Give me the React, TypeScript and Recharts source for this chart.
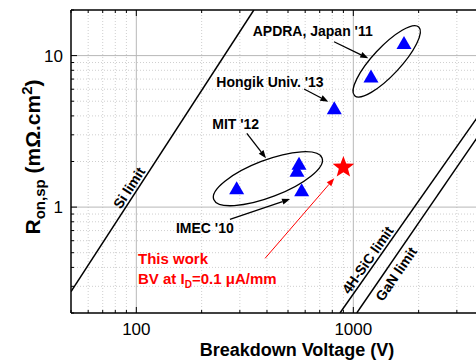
import React from 'react';
import { ComposedChart, XAxis, YAxis, Line, Scatter, ReferenceLine, ReferenceDot } from 'recharts';

const FONT = '"Liberation Sans", Arial, Helvetica, sans-serif';

// log axis ticks
const xTicks = [50, 60, 70, 80, 90, 100, 200, 300, 400, 500, 600, 700, 800, 900, 1000, 2000, 3000, 4000, 5000];
const xMajor = [100, 1000];
const xMinor = [60, 70, 80, 90, 200, 300, 400, 500, 600, 700, 800, 900, 2000, 3000, 4000];
const yTicks = [0.2, 0.3, 0.4, 0.5, 0.6, 0.7, 0.8, 0.9, 1, 2, 3, 4, 5, 6, 7, 8, 9, 10, 20];
const yMajor = [1, 10];
const yMinor = [0.3, 0.4, 0.5, 0.6, 0.7, 0.8, 0.9, 2, 3, 4, 5, 6, 7, 8, 9];

// reported devices (BV in V, Ron,sp in mOhm.cm2)
const apdra = [{ x: 1712, y: 12.2 }, { x: 1206, y: 7.33 }];
const hongik = [{ x: 817, y: 4.53 }];
const mit = [{ x: 562, y: 1.95 }, { x: 550, y: 1.75 }, { x: 290, y: 1.34 }];
const imec = [{ x: 578, y: 1.3 }];
const thisWork = [{ x: 900, y: 1.83 }];

// material limits
const siLimit = [{ x: 50, y: 0.277 }, { x: 348, y: 20 }];
const sicLimit = [{ x: 868, y: 0.2 }, { x: 5000, y: 7.13 }];
const ganLimit = [{ x: 1037, y: 0.2 }, { x: 5000, y: 5.33 }];

// annotation anchors (data coords)
const groupLabels = [
  { text: "APDRA, Japan '11", x: 650, y: 14.6 },
  { text: "Hongik Univ. '13", x: 413, y: 6.72 },
  { text: "MIT '12", x: 287, y: 3.54 },
  { text: "IMEC '10", x: 207, y: 0.724 },
];
const limitLabels = [
  { text: 'Si limit', x: 92.5, y: 1.34, angle: -57 },
  { text: '4H-SiC limit', x: 1163, y: 0.448, angle: -55 },
  { text: 'GaN limit', x: 1573, y: 0.362, angle: -55.5 },
];
const arrows = [
  { x1: 815, y1: 12.35, x2: 1172, y2: 9.6, red: false },
  { x1: 593, y1: 6.02, x2: 767, y2: 4.96, red: false },
  { x1: 323, y1: 3.07, x2: 396, y2: 2.1, red: false },
  { x1: 270, y1: 0.831, x2: 511, y2: 1.13, red: false },
  { x1: 392, y1: 0.459, x2: 817, y2: 1.55, red: true },
];
const apdraRing = { x: 1425, y: 9.17 };
const mitRing = { x: 404, y: 1.54 };
const thisWorkNote = { x: 101.8, y: 0.419 };

const Triangle = (p: any) => (
  <polygon
    points={`${p.cx},${p.cy - 6.5} ${p.cx - 7.5},${p.cy + 6.5} ${p.cx + 7.5},${p.cy + 6.5}`}
    fill="#0000ff"
  />
);

const Star = (p: any) => {
  const pts: string[] = [];
  for (let i = 0; i < 10; i++) {
    const r = i % 2 === 0 ? 11.4 : 4.8;
    const a = -Math.PI / 2 + (i * Math.PI) / 5;
    pts.push(`${p.cx + r * Math.cos(a)},${p.cy + r * Math.sin(a)}`);
  }
  return <polygon points={pts.join(' ')} fill="#ff0000" />;
};

const XTickBottom = ({ x, y, payload }: any) => {
  const major = xMajor.includes(payload.value);
  return (
    <g>
      <line x1={x} x2={x} y1={y} y2={y - (major ? 6 : 3)} stroke="#000" />
      {major && (
        <text x={x} y={y + 22} textAnchor="middle" fontSize={17} fill="#000">{payload.value}</text>
      )}
    </g>
  );
};

const XTickTop = ({ x, y, payload }: any) => {
  const major = xMajor.includes(payload.value);
  return <line x1={x} x2={x} y1={y} y2={y + (major ? 6 : 3)} stroke="#000" />;
};

const YTickLeft = ({ x, y, payload }: any) => {
  const major = yMajor.includes(payload.value);
  return (
    <g>
      <line x1={x} x2={x + (major ? 6 : 3)} y1={y} y2={y} stroke="#000" />
      {major && (
        <text x={x - 8} y={y} dy="0.36em" textAnchor="end" fontSize={17} fill="#000">{payload.value}</text>
      )}
    </g>
  );
};

const arrowShape = (color: string, w: number) => (p: any) => {
  const { x1, y1, x2, y2 } = p;
  const ang = Math.atan2(y2 - y1, x2 - x1);
  const L = 8;
  const W = 3;
  const bx = x2 - L * Math.cos(ang);
  const by = y2 - L * Math.sin(ang);
  const nx = -Math.sin(ang) * W;
  const ny = Math.cos(ang) * W;
  return (
    <g>
      <line x1={x1} y1={y1} x2={bx} y2={by} stroke={color} strokeWidth={w} />
      <polygon points={`${x2},${y2} ${bx + nx},${by + ny} ${bx - nx},${by - ny}`} fill={color} />
    </g>
  );
};

export default function App() {
  return (
    <div
      style={{
        position: 'fixed',
        left: 0,
        top: 0,
        width: 476,
        height: 360,
        overflow: 'hidden',
        background: '#fff',
        fontFamily: FONT,
      }}
    >
      <ComposedChart width={520} height={360} margin={{ top: 9, right: 15, bottom: 46, left: 70 }}>
        <XAxis
          dataKey="x"
          type="number"
          scale="log"
          domain={[50, 5000]}
          allowDataOverflow
          ticks={xTicks}
          interval={0}
          height={1}
          tickSize={0}
          tickMargin={0}
          tickLine={false}
          tick={<XTickBottom />}
          axisLine={{ stroke: '#000', strokeWidth: 1.5 }}
        />
        <XAxis
          xAxisId="top"
          orientation="top"
          dataKey="x"
          type="number"
          scale="log"
          domain={[50, 5000]}
          allowDataOverflow
          ticks={xTicks}
          interval={0}
          height={1}
          tickSize={0}
          tickMargin={0}
          tickLine={false}
          tick={<XTickTop />}
          axisLine={{ stroke: '#000', strokeWidth: 1.5 }}
        />
        <YAxis
          dataKey="y"
          type="number"
          scale="log"
          domain={[0.2, 20]}
          allowDataOverflow
          ticks={yTicks}
          interval={0}
          width={1}
          tickSize={0}
          tickMargin={0}
          tickLine={false}
          tick={<YTickLeft />}
          axisLine={{ stroke: '#000', strokeWidth: 1.5 }}
        />

        {xMinor.map((v) => (
          <ReferenceLine key={`xm${v}`} x={v} stroke="#cfcfcf" strokeDasharray="1 2" />
        ))}
        {yMinor.map((v) => (
          <ReferenceLine key={`ym${v}`} y={v} stroke="#cfcfcf" strokeDasharray="1 2" />
        ))}
        {xMajor.map((v) => (
          <ReferenceLine key={`xM${v}`} x={v} stroke="#b8b8b8" />
        ))}
        {yMajor.map((v) => (
          <ReferenceLine key={`yM${v}`} y={v} stroke="#b8b8b8" />
        ))}

        <Line data={siLimit} dataKey="y" stroke="#000" strokeWidth={1.5} dot={false} isAnimationActive={false} />
        <Line data={sicLimit} dataKey="y" stroke="#000" strokeWidth={1.5} dot={false} isAnimationActive={false} />
        <Line data={ganLimit} dataKey="y" stroke="#000" strokeWidth={1.5} dot={false} isAnimationActive={false} />

        <ReferenceDot
          x={apdraRing.x}
          y={apdraRing.y}
          r={0}
          shape={(p: any) => (
            <ellipse cx={p.cx} cy={p.cy} rx={47} ry={14} fill="none" stroke="#000" strokeWidth={1.3}
              transform={`rotate(-47 ${p.cx} ${p.cy})`} />
          )}
        />
        <ReferenceDot
          x={mitRing.x}
          y={mitRing.y}
          r={0}
          shape={(p: any) => (
            <ellipse cx={p.cx} cy={p.cy} rx={58} ry={18.5} fill="none" stroke="#000" strokeWidth={1.3}
              transform={`rotate(-21 ${p.cx} ${p.cy})`} />
          )}
        />

        {arrows.map((a, i) => (
          <ReferenceLine
            key={`ar${i}`}
            segment={[{ x: a.x1, y: a.y1 }, { x: a.x2, y: a.y2 }]}
            shape={arrowShape(a.red ? '#ff0000' : '#000', a.red ? 1 : 1.3)}
          />
        ))}

        <Scatter data={apdra} shape={Triangle} isAnimationActive={false} />
        <Scatter data={hongik} shape={Triangle} isAnimationActive={false} />
        <Scatter data={mit} shape={Triangle} isAnimationActive={false} />
        <Scatter data={imec} shape={Triangle} isAnimationActive={false} />
        <Scatter data={thisWork} shape={Star} isAnimationActive={false} />

        {groupLabels.map((l) => (
          <ReferenceDot
            key={l.text}
            x={l.x}
            y={l.y}
            r={0}
            shape={(p: any) => (
              <text x={p.cx} y={p.cy} dy="0.36em" textAnchor="middle" fontSize={14} fontWeight="bold" fill="#000">
                {l.text}
              </text>
            )}
          />
        ))}
        {limitLabels.map((l) => (
          <ReferenceDot
            key={l.text}
            x={l.x}
            y={l.y}
            r={0}
            shape={(p: any) => (
              <text x={p.cx} y={p.cy} dy="0.36em" textAnchor="middle" fontSize={14} fontWeight="bold" fill="#000"
                transform={`rotate(${l.angle} ${p.cx} ${p.cy})`}>
                {l.text}
              </text>
            )}
          />
        ))}
        <ReferenceDot
          x={thisWorkNote.x}
          y={thisWorkNote.y}
          r={0}
          shape={(p: any) => (
            <g fill="#ff0000" fontWeight="bold" fontSize={15}>
              <text x={p.cx} y={p.cy}>This work</text>
              <text x={p.cx} y={p.cy + 20}>
                BV at I<tspan fontSize={10} dy={4}>D</tspan>
                <tspan dy={-4}>=0.1 μA/mm</tspan>
              </text>
            </g>
          )}
        />

        <text x={297} y={356} textAnchor="middle" fontSize={18} fontWeight="bold" fill="#000">
          Breakdown Voltage (V)
        </text>
        <text transform="translate(40,157) rotate(-90)" textAnchor="middle" fontSize={21} fontWeight="bold" fill="#000">
          R<tspan fontSize={15} dy={5}>on,sp</tspan>
          <tspan dy={-5}> (mΩ.cm</tspan>
          <tspan fontSize={15} dy={-8}>2</tspan>
          <tspan dy={8}>)</tspan>
        </text>
      </ComposedChart>
    </div>
  );
}
